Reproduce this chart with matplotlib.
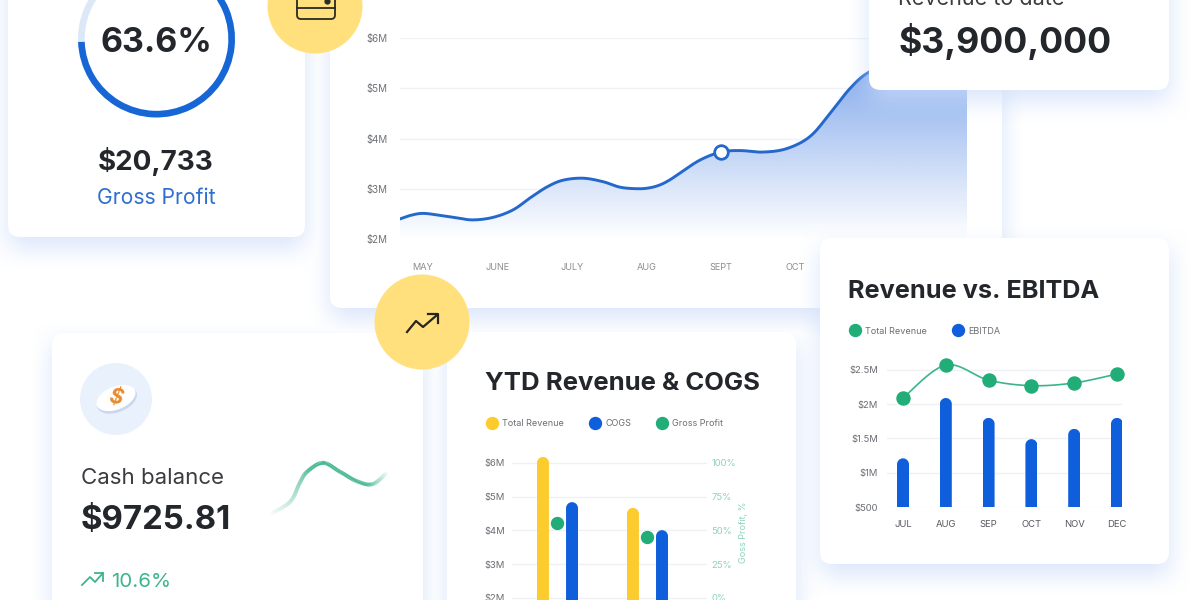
import numpy as np
import matplotlib
matplotlib.use('Agg')
import matplotlib.pyplot as plt
from matplotlib.collections import LineCollection
from matplotlib.lines import Line2D
from matplotlib.patches import Circle, Ellipse, FancyBboxPatch
from matplotlib.path import Path

plt.rcParams['font.family'] = ['Inter', 'DejaVu Sans']

W, H = 1200, 600

# main revenue curve
rev_months = [-0.31, -0.17, 0.0, 0.23, 0.46, 0.67, 0.94, 1.21, 1.44, 1.67, 1.88, 2.15, 2.42, 2.65, 2.89,
              3.05, 3.19, 3.32, 3.45, 3.72, 4.0, 4.26, 4.57, 4.89, 5.2, 5.47, 5.74, 5.99, 6.41, 7.31]
rev_values = [2.40, 2.47, 2.51, 2.47, 2.42, 2.38, 2.43, 2.58, 2.82, 3.04, 3.17, 3.21, 3.14, 3.03, 3.00,
              3.02, 3.08, 3.18, 3.31, 3.57, 3.73, 3.76, 3.73, 3.80, 4.04, 4.50, 5.00, 5.32, 5.60, 5.86]
rev_marker = 20
rev_ticks = [2, 3, 4, 5, 6]
rev_tick_labels = ['$2M', '$3M', '$4M', '$5M', '$6M']
rev_month_labels = ['MAY', 'JUNE', 'JULY', 'AUG', 'SEPT', 'OCT']

# revenue vs ebitda
ebitda_months = ['JUL', 'AUG', 'SEP', 'OCT', 'NOV', 'DEC']
ebitda_total = [2.09, 2.57, 2.35, 2.27, 2.31, 2.44]
ebitda_bars = [1.21, 2.09, 1.80, 1.49, 1.64, 1.80]
ebitda_ticks = [0.5, 1, 1.5, 2, 2.5]
ebitda_tick_labels = ['$500', '$1M', '$1.5M', '$2M', '$2.5M']

# ytd revenue & cogs
ytd_revenue = [6.18, 4.67]
ytd_cogs = [4.84, 4.01]
ytd_profit = [55.6, 45.2]
ytd_ticks = [2, 3, 4, 5, 6]
ytd_tick_labels = ['$2M', '$3M', '$4M', '$5M', '$6M']
ytd_pct_ticks = [0, 25, 50, 75, 100]

# gross profit donut
margin = [63.6, 36.4]

# cash balance sparkline
cash_x = [.01, .18, .26, .32, .45, .59, .73, .86, .98]
cash_y = [.03, .25, .59, .79, .95, .79, .62, .57, .79]

BLUE = '#0f5fdc'
LINE_BLUE = '#2468cc'
GREEN = '#22ad78'
YELLOW = '#fccb2d'
CIRCLE = '#ffe07d'
DARK = '#23262b'
GRID = '#eff1f5'


def px_axes(x0, top, x1, bottom, z):
    ax = fig.add_axes([x0/W, 1-bottom/H, (x1-x0)/W, (bottom-top)/H], zorder=z)
    ax.patch.set_visible(False)
    return ax


def smooth(x, y, n=16):
    # catmull-rom through the points that were read, only for drawing
    x, y = np.array(x, float), np.array(y, float)
    px = np.r_[x[0], x, x[-1]]
    py = np.r_[y[0], y, y[-1]]
    t = np.linspace(0, 1, n, endpoint=False)[:, None]
    out = []
    for p in (px, py):
        a, b, c, d = p[:-3], p[1:-2], p[2:-1], p[3:]
        v = .5*(2*b + (c-a)*t + (2*a-5*b+4*c-d)*t**2 + (3*b-a-3*c+d)*t**3)
        out.append(np.r_[v.T.ravel(), p[-2]])
    return out[0], out[1]


def round_bars(ax, bars):
    # rounded top on each bar, radius is half of the bar width on screen
    (x0, y0), (x1, y1) = ax.transData.transform([(0, 0), (1, 1)])
    ratio = abs((x1-x0)/(y1-y0))
    for b in bars:
        l, r, base, top = b.get_x(), b.get_x()+b.get_width(), b.get_y(), b.get_y()+b.get_height()
        rx = b.get_width()/2
        ry = rx*ratio
        k = .55
        verts = [(l, base), (l, top-ry), (l, top-ry+k*ry), (l+rx-k*rx, top), (l+rx, top),
                 (l+rx+k*rx, top), (r, top-ry+k*ry), (r, top-ry), (r, base), (l, base)]
        codes = [Path.MOVETO, Path.LINETO, Path.CURVE4, Path.CURVE4, Path.CURVE4,
                 Path.CURVE4, Path.CURVE4, Path.CURVE4, Path.LINETO, Path.CLOSEPOLY]
        b.set_clip_path(Path(verts, codes), ax.transData)


def clean(ax):
    for s in ax.spines.values():
        s.set_visible(False)
    ax.tick_params(length=0)


def legend(ax, labels, colors, x, y):
    handles = [Line2D([], [], ls='', marker='o', ms=8.6, color=c, label=t)
               for t, c in zip(labels, colors)]
    leg = ax.legend(handles=handles, ncol=len(labels), loc='center left', frameon=False,
                    bbox_to_anchor=(x/W, 1-y/H), bbox_transform=fig.transFigure,
                    borderpad=0, borderaxespad=0, fontsize=6.5, handlelength=1.3,
                    handletextpad=.5, columnspacing=2.75, labelcolor='#6a6d73')
    return leg


def shadow_layer(ax, cards):
    yy, xx = np.mgrid[0:H, 0:W]
    a = np.zeros((H, W))
    for x0, y0, x1, y1 in cards:
        sig = 24.
        f = lambda v: np.clip(v/sig*.5+.5, 0, 1)
        s = lambda v: f(v)**2*(3-2*f(v))
        a = np.maximum(a, s(xx-x0)*s(x1-xx)*s(yy-y0-10)*s(y1+10-yy))
    img = np.zeros((H, W, 4))
    img[..., :3] = (.80, .87, .985)
    img[..., 3] = a*.75
    ax.imshow(img, extent=(0, W, H, 0), aspect='auto', interpolation='bilinear', zorder=0)


def card(ax, x0, y0, x1, y1):
    ax.add_patch(FancyBboxPatch((x0+12, y0+12), x1-x0-24, y1-y0-24, fc='white', ec='none',
                                boxstyle='round,pad=12,rounding_size=12', zorder=1))


fig = plt.figure(figsize=(W/100, H/100), dpi=100, facecolor='white')

# back layer: cards behind the main chart
back = fig.add_axes([0, 0, 1, 1], zorder=0)
back.set_xlim(0, W)
back.set_ylim(H, 0)
back.axis('off')
low_cards = [(8, -60, 305, 237), (330, -60, 1002, 308), (52, 333, 423, 680), (447, 332, 796, 680)]
shadow_layer(back, low_cards)
for c in low_cards:
    card(back, *c)
back.set_xlim(0, W)
back.set_ylim(H, 0)

# main revenue chart
ax = px_axes(400, 38, 967, 239, 1)
ax.set_xlim(-0.31, 7.31)
ax.set_ylim(2, 6)
sx, sy = smooth(rev_months, rev_values)
# white fill hides the gridlines under the area, gradient goes on top of it
poly = ax.fill_between(sx, sy, 2, color='white', lw=0, zorder=1.2)
grad = np.zeros((200, 1, 4))
grad[..., :3] = (.42, .60, .91)
grad[:, 0, 3] = np.linspace(.95, 0, 200)
im = ax.imshow(grad, extent=(-0.31, 7.31, 2, 6), aspect='auto', zorder=1.5)
im.set_clip_path(poly.get_paths()[0], ax.transData)
ax.plot(sx, sy, color=LINE_BLUE, lw=2.1, zorder=3)
ax.plot([rev_months[rev_marker]], [rev_values[rev_marker]], marker='o', ms=9.8, mfc='white',
        mec=LINE_BLUE, mew=2, zorder=4, clip_on=False)
ax.set_xlim(-0.31, 7.31)
ax.set_ylim(2, 6)
ax.set_yticks(rev_ticks, rev_tick_labels, fontsize=7, color='#6f7276')
ax.set_xticks(range(len(rev_month_labels)), rev_month_labels, fontsize=6.6, color='#8a8c90')
ax.grid(axis='y', color=GRID, lw=1)
ax.set_axisbelow(True)
clean(ax)
ax.tick_params(axis='x', pad=17)
ax.tick_params(axis='y', pad=9)

# overlay: the upper cards, circles, icons and big text
top = fig.add_axes([0, 0, 1, 1], zorder=2)
top.patch.set_visible(False)
top.axis('off')
high_cards = [(869, -60, 1169, 90), (820, 238, 1169, 564)]
shadow_layer(top, high_cards)
for c in high_cards:
    card(top, *c)
top.add_patch(Circle((315, 6), 47.5, fc=CIRCLE, ec='none', zorder=2))
top.add_patch(Circle((422, 322), 47.5, fc=CIRCLE, ec='none', zorder=2))

# wallet icon
top.add_patch(FancyBboxPatch((299, -20), 34, 37, boxstyle='round,pad=2,rounding_size=4', fc='none',
                             ec='#2b2a24', lw=1.3, zorder=3))
top.plot([297, 335], [8, 8], color='#2b2a24', lw=1.3, zorder=3)
top.plot([327], [1], marker='o', ms=3.5, color='#2b2a24', zorder=3)
# trend icon
top.plot([407, 416, 423, 437], [332, 321, 327, 315], color='#26251f', lw=1.6, zorder=3)
top.plot([428, 438, 438], [314, 314, 323], color='#26251f', lw=1.6, zorder=3)
# coin icon
top.add_patch(Circle((116, 399), 36, fc='#e9f1fc', ec='none', zorder=2))
top.add_patch(Ellipse((117, 400), 42, 24, angle=-22, fc='#ccd6f0', ec='none', zorder=3))
top.add_patch(Ellipse((116, 398), 41, 23, angle=-22, fc='white', ec='none', zorder=3))
top.text(116, 398, '$', color='#e98a2e', fontsize=15, fontweight='bold', style='italic',
         ha='center', va='center', rotation=-12, zorder=4)
# small green trend
top.plot([82, 90, 95, 103], [585, 577, 582, 573], color='#3cb58c', lw=1.3, zorder=3)
top.plot([95, 103, 103], [573, 573, 581], color='#3cb58c', lw=1.3, zorder=3)

top.text(156, 43, '63.6%', fontsize=24.5, fontweight='bold', color=DARK, ha='center', va='center')
top.text(156, 162, '$20,733', fontsize=20, fontweight='bold', color=DARK, ha='center', va='center')
top.text(156, 198, 'Gross Profit', fontsize=15.2, color='#2f6fd0', ha='center', va='center')
top.text(898, 5, 'Revenue to date', fontsize=15.5, color='#3a3c40', ha='left', va='baseline')
top.text(898, 42, '$3,900,000', fontsize=25.7, fontweight='bold', color=DARK, ha='left', va='center')
top.text(81, 478, 'Cash balance', fontsize=16, color='#3a3c40', ha='left', va='center')
top.text(81, 520, '$9725.81', fontsize=23.7, fontweight='bold', color=DARK, ha='left', va='center')
top.text(111, 582, '10.6%', fontsize=14.8, color='#3cb58c', ha='left', va='center')
top.text(848, 292, 'Revenue vs. EBITDA', fontsize=18.2, fontweight='bold', color=DARK, ha='left', va='center')
top.text(485, 384, 'YTD Revenue & COGS', fontsize=18.5, fontweight='bold', color=DARK, ha='left', va='center')
top.set_xlim(0, W)
top.set_ylim(H, 0)

# donut
dn = px_axes(78, -40, 235, 118, 3)
dn.pie(margin, colors=['#1766d6', '#dce7f8'], startangle=51, counterclock=False, radius=1,
       wedgeprops={'width': .085, 'linewidth': 0})
dn.set_xlim(-1, 1)
dn.set_ylim(-1, 1)

# sparkline in the cash card
sp = px_axes(268, 460, 390, 516, 3)
sp.set_xlim(0, 1)
sp.set_ylim(0, 1)
sp.axis('off')
lx, ly = smooth(cash_x, cash_y)
pts = np.column_stack([lx, ly])
segs = np.stack([pts[:-1], pts[1:]], axis=1)
t = np.linspace(0, 1, len(segs))
alpha = np.clip(np.minimum(t/.4, (1-t)/.18), 0, 1)*.9
cols = np.zeros((len(segs), 4))
cols[:, :3] = matplotlib.colors.to_rgb('#2fae82')
cols[:, 3] = alpha
sp.add_collection(LineCollection(segs, colors=cols, linewidths=2.8, capstyle='butt'))

# revenue vs ebitda chart
ax2 = px_axes(887, 350, 1122, 507, 3)
ax2.set_xlim(-0.374, 5.117)
ax2.set_ylim(.5, 2.79)
pos = np.arange(len(ebitda_months))
bars = ax2.bar(pos, ebitda_bars, .28, bottom=0, color=BLUE, zorder=2)
round_bars(ax2, bars)
tx, ty = smooth(pos, ebitda_total)
ax2.plot(tx, ty, color='#3ab58a', lw=1.2, zorder=3)
ax2.plot(pos, ebitda_total, ls='', marker='o', ms=9.4, color=GREEN, zorder=4, clip_on=False)
ax2.set_yticks(ebitda_ticks, ebitda_tick_labels, fontsize=6.8, color='#6a6d73')
ax2.set_xticks(pos, ebitda_months, fontsize=6.8, color='#55585e')
ax2.grid(axis='y', color=GRID, lw=1)
ax2.set_axisbelow(True)
clean(ax2)
ax2.tick_params(axis='x', pad=9.5)
ax2.tick_params(axis='y', pad=6.5)
legend(ax2, ['Total Revenue', 'EBITDA'], [GREEN, BLUE], 849, 331)

# ytd chart, runs off the bottom of the picture
ax3 = px_axes(512, 445, 707, 620, 3)
ax3.set_xlim(-.5, 1.667)
ax3.set_ylim(1.348, 6.533)
grp = np.arange(len(ytd_revenue))
b1 = ax3.bar(grp-.156, ytd_revenue, .133, color=YELLOW, zorder=2)
b2 = ax3.bar(grp+.167, ytd_cogs, .133, color=BLUE, zorder=2)
round_bars(ax3, b1)
round_bars(ax3, b2)
ax3.set_xticks([])
ax3.set_yticks(ytd_ticks, ytd_tick_labels, fontsize=6.8, color='#6a6d73')
ax3.grid(axis='y', color=GRID, lw=1)
ax3.set_axisbelow(True)
clean(ax3)
ax3.tick_params(axis='y', pad=5)
legend(ax3, ['Total Revenue', 'COGS', 'Gross Profit'], [YELLOW, BLUE, GREEN], 486, 424)

ax4 = ax3.twinx()
ax4.patch.set_visible(False)
ax4.set_ylim(-16.3, 113.3)
ax4.plot(grp, ytd_profit, ls='', marker='o', ms=8.6, color=GREEN, zorder=4)
ax4.set_yticks(ytd_pct_ticks, [f'{p}%' for p in ytd_pct_ticks], fontsize=6.8, color='#8ed3b8')
clean(ax4)
ax4.tick_params(axis='y', pad=3)
ax4.set_ylabel('Goss Profit, %', fontsize=6.5, color='#8ed3b8')
ax4.yaxis.set_label_coords(1.165, .503)

fig.savefig('out.png', dpi=100)
